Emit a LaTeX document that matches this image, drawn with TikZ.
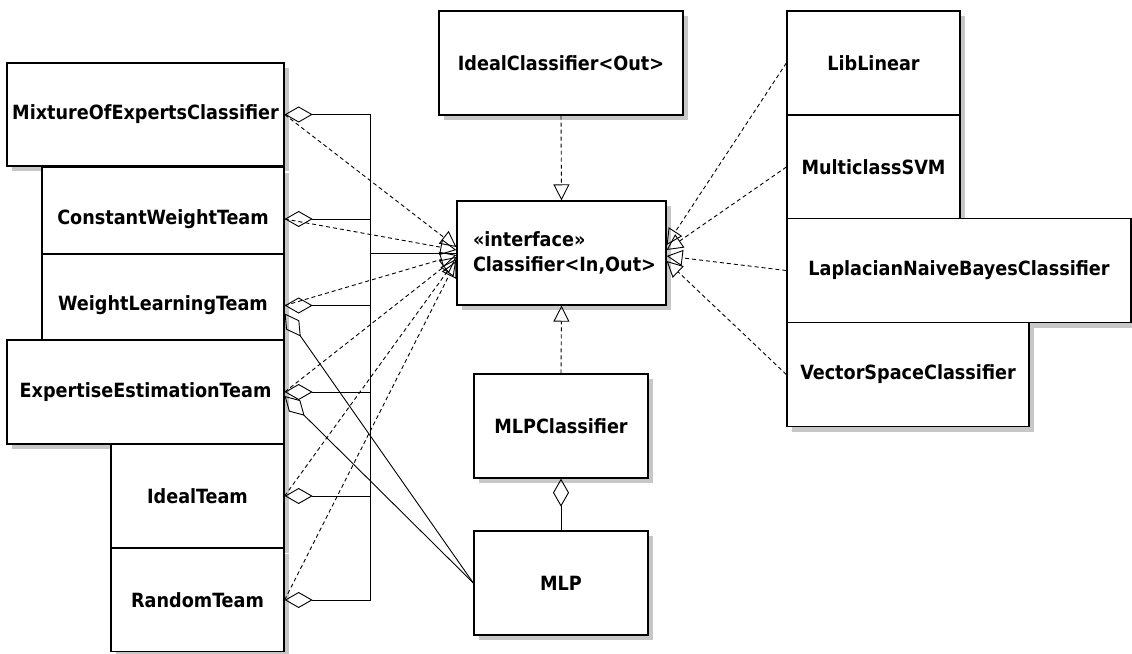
\documentclass[tikz,border=0pt]{standalone}
\usepackage{fontspec}
\setmainfont{DejaVu Sans Condensed}
\usetikzlibrary{arrows.meta,shadows,calc}
\begin{document}
\begin{tikzpicture}[x=1pt,y=-1pt,
  cls/.style={draw, line width=1.3pt, fill=white, inner sep=0pt,
    font=\bfseries\fontsize{19.6}{25}\selectfont,
    drop shadow={shadow xshift=5pt, shadow yshift=-5pt, fill=black!22, opacity=1}},
  aggr/.style={line width=0.9pt, {Diamond[open,length=28pt,width=16pt,line width=0.9pt]}-},
  plain/.style={line width=0.9pt},
  real/.style={line width=0.9pt, dash pattern=on 4pt off 3pt,
    -{Triangle[open,length=16pt,width=16pt,line width=0.9pt]}}]
\useasboundingbox (0,0) rectangle (1132,653);
\fill[white] (0,0) rectangle (1132,653);

% team classes on the left (drawn top to bottom, each overlapping the previous)
\node[cls, minimum width=277pt, minimum height=103pt] (mix) at (145.5,114.5) {MixtureOfExpertsClassifier};
\node[cls, minimum width=242pt, minimum height=103pt] (cwt) at (163,219) {ConstantWeightTeam};
\node[cls, minimum width=242pt, minimum height=103pt] (wlt) at (163,305.5) {WeightLearningTeam};
\node[cls, minimum width=277pt, minimum height=104pt] (eet) at (145.5,392) {ExpertiseEstimationTeam};
\node[cls, minimum width=173pt, minimum height=104pt] (itm) at (197.5,496) {IdealTeam};
\node[cls, minimum width=173pt, minimum height=103pt] (rtm) at (197.5,600) {RandomTeam};

% central classes
\node[cls, minimum width=244pt, minimum height=104pt] (ic) at (561,63) {IdealClassifier<Out>};
\node[cls, minimum height=104pt, text width=177pt, inner xsep=16pt, align=left] (clf) at (561.5,253)
  {«interface»\\Classifier<In,Out>};
\node[cls, minimum width=174pt, minimum height=104pt] (mlpc) at (561,426) {MLPClassifier};
\node[cls, minimum width=174pt, minimum height=104pt] (mlp) at (561,583) {MLP};

% classifier implementations on the right
\node[cls, minimum width=173pt, minimum height=104pt] (ll) at (873.5,63) {LibLinear};
\node[cls, minimum width=173pt, minimum height=104pt] (svm) at (873.5,167) {MulticlassSVM};
\node[cls, minimum width=344pt, minimum height=104pt] (lap) at (959,270.5) {LaplacianNaiveBayesClassifier};
\node[cls, minimum width=242pt, minimum height=104pt] (vsc) at (908,374.5) {VectorSpaceClassifier};

% aggregation tree: every team holds classifiers
\coordinate (bus) at (370,253);
\foreach \n in {mix,cwt,wlt,eet,itm,rtm}
  \draw[aggr] (\n.east) -| (bus);
\draw[plain] (bus) -- (clf.west);

% teams realize Classifier
\draw[real] (mix.east) -- ($(clf.west)+(0,-6)$);
\draw[real] (cwt.east) -- ($(clf.west)+(0,-3)$);
\draw[real] (wlt.east) -- ($(clf.west)+(0,2)$);
\draw[real] (eet.east) -- ($(clf.west)+(0,4)$);
\draw[real] (itm.east) -- ($(clf.west)+(0,6)$);
\draw[real] (rtm.east) -- ($(clf.west)+(0,8)$);

% weight learning and expertise estimation teams use an MLP
\draw[aggr] ($(wlt.east)+(0,8)$) -- (mlp.west);
\draw[aggr] ($(eet.east)+(0,4)$) -- (mlp.west);

% other realizations of Classifier
\draw[real] (ic.south) -- (clf.north);
\draw[real] (mlpc.north) -- (clf.south);
\draw[real] (ll.west) -- ($(clf.east)+(0,-8)$);
\draw[real] (svm.west) -- ($(clf.east)+(0,-3)$);
\draw[real] (lap.west) -- ($(clf.east)+(0,3)$);
\draw[real] (vsc.west) -- ($(clf.east)+(0,8)$);

% MLPClassifier holds an MLP
\draw[aggr] (mlpc.south) -- (mlp.north);
\end{tikzpicture}
\end{document}
